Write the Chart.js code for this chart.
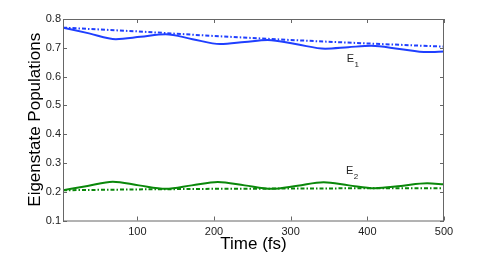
<!DOCTYPE html>
<html>
<head>
<meta charset="utf-8">
<script src="https://cdn.jsdelivr.net/npm/chart.js@4.4.1/dist/chart.umd.min.js"></script>
<style>
  html, body { margin: 0; padding: 0; background: #fff; }
  #wrap { width: 491px; height: 253px; }
</style>
</head>
<body>
<div id="wrap"><canvas id="chart" width="491" height="253"></canvas></div>
<script>
// time samples (fs) and populations
const e1Time = [3, 37, 72, 104, 137, 172, 208, 240, 270, 308, 345, 375, 405, 442, 478, 500];
const e1Pop = [0.770, 0.750, 0.730, 0.738, 0.747, 0.730, 0.713, 0.720, 0.727, 0.712, 0.697, 0.702, 0.707, 0.696, 0.685, 0.687];

const e1AvgTime = [3, 100, 200, 300, 400, 500];
const e1AvgPop = [0.770, 0.757, 0.741, 0.727, 0.715, 0.704];

const e2Time = [3, 35, 68, 102, 137, 171, 205, 240, 275, 309, 343, 376, 410, 444, 478, 500];
const e2Pop = [0.205, 0.220, 0.235, 0.222, 0.210, 0.222, 0.234, 0.222, 0.210, 0.221, 0.233, 0.222, 0.212, 0.220, 0.229, 0.226];

const e2AvgTime = [3, 100, 200, 300, 400, 500];
const e2AvgPop = [0.205, 0.208, 0.210, 0.211, 0.212, 0.212];

const xTicks = [100, 200, 300, 400, 500];
const yTicks = [0.1, 0.2, 0.3, 0.4, 0.5, 0.6, 0.7, 0.8];

const BLUE = '#1f3fff';
const GREEN = '#0a880a';
const AXIS = '#666';
const FONT = 'Liberation Sans, Arial, Helvetica, sans-serif';

const toPoints = (xs, ys) => xs.map((x, i) => ({ x, y: ys[i] }));

// box + inward tick marks, like the original axes
const boxPlugin = {
  id: 'box',
  afterDraw(chart) {
    const { ctx, chartArea: a, scales } = chart;
    ctx.save();
    ctx.strokeStyle = AXIS;
    ctx.lineWidth = 1;
    ctx.strokeRect(a.left + 0.5, a.top + 0.5, a.right - a.left - 1, a.bottom - a.top);
    ctx.beginPath();
    xTicks.forEach((t) => {
      const px = Math.round(scales.x.getPixelForValue(t)) + 0.5;
      ctx.moveTo(px, a.bottom); ctx.lineTo(px, a.bottom - 4);
      ctx.moveTo(px, a.top); ctx.lineTo(px, a.top + 4);
    });
    yTicks.forEach((t) => {
      const py = Math.round(scales.y.getPixelForValue(t)) + 0.5;
      ctx.moveTo(a.left, py); ctx.lineTo(a.left + 4, py);
      ctx.moveTo(a.right, py); ctx.lineTo(a.right - 4, py);
    });
    ctx.stroke();
    ctx.restore();
  },
};

// E1 / E2 annotations with subscripts
const labelPlugin = {
  id: 'labels',
  afterDatasetsDraw(chart) {
    const { ctx, scales } = chart;
    const marks = [
      { t: 373, v: 0.650, sub: '1' },
      { t: 372, v: 0.262, sub: '2' },
    ];
    ctx.save();
    ctx.fillStyle = '#222';
    ctx.textBaseline = 'alphabetic';
    marks.forEach((m) => {
      const x = scales.x.getPixelForValue(m.t);
      const y = scales.y.getPixelForValue(m.v);
      ctx.font = '11px ' + FONT;
      ctx.fillText('E', x, y);
      const w = ctx.measureText('E').width;
      ctx.font = '8px ' + FONT;
      ctx.fillText(m.sub, x + w + 0.5, y + 5);
    });
    ctx.restore();
  },
};

new Chart(document.getElementById('chart'), {
  type: 'scatter',
  data: {
    datasets: [
      { data: toPoints(e1Time, e1Pop), borderColor: BLUE, borderWidth: 2, cubicInterpolationMode: 'monotone' },
      { data: toPoints(e1AvgTime, e1AvgPop), borderColor: BLUE, borderWidth: 2, borderDash: [4, 2, 1.5, 2] },
      { data: toPoints(e2Time, e2Pop), borderColor: GREEN, borderWidth: 2, cubicInterpolationMode: 'monotone' },
      { data: toPoints(e2AvgTime, e2AvgPop), borderColor: GREEN, borderWidth: 2, borderDash: [4, 2, 1.5, 2] },
    ].map((d) => ({ ...d, showLine: true, pointRadius: 0, fill: false })),
  },
  options: {
    responsive: false,
    animation: false,
    events: [],
    layout: { padding: { left: 25, right: 47, top: 19, bottom: 0 } },
    plugins: { legend: { display: false }, tooltip: { enabled: false } },
    scales: {
      x: {
        type: 'linear',
        min: 3,
        max: 500,
        afterBuildTicks: (s) => { s.ticks = xTicks.map((v) => ({ value: v })); },
        afterFit: (s) => { s.height = 32.5; },
        grid: { display: false, drawTicks: false },
        border: { display: false },
        ticks: { color: '#222', font: { family: FONT, size: 11 }, padding: 5, maxRotation: 0 },
        title: { display: true, text: 'Time (fs)', color: '#000', font: { family: FONT, size: 17 }, padding: { top: 0, bottom: -2 } },
      },
      y: {
        min: 0.1,
        max: 0.8,
        afterBuildTicks: (s) => { s.ticks = yTicks.map((v) => ({ value: v })); },
        afterFit: (s) => { s.width = 38; },
        grid: { display: false, drawTicks: false },
        border: { display: false },
        ticks: { color: '#222', font: { family: FONT, size: 11 }, padding: 2, callback: (v) => v.toFixed(1) },
        title: { display: true, text: 'Eigenstate Populations', color: '#000', font: { family: FONT, size: 17 }, padding: { top: 0, bottom: 0 } },
      },
    },
  },
  plugins: [boxPlugin, labelPlugin],
});
</script>
</body>
</html>
